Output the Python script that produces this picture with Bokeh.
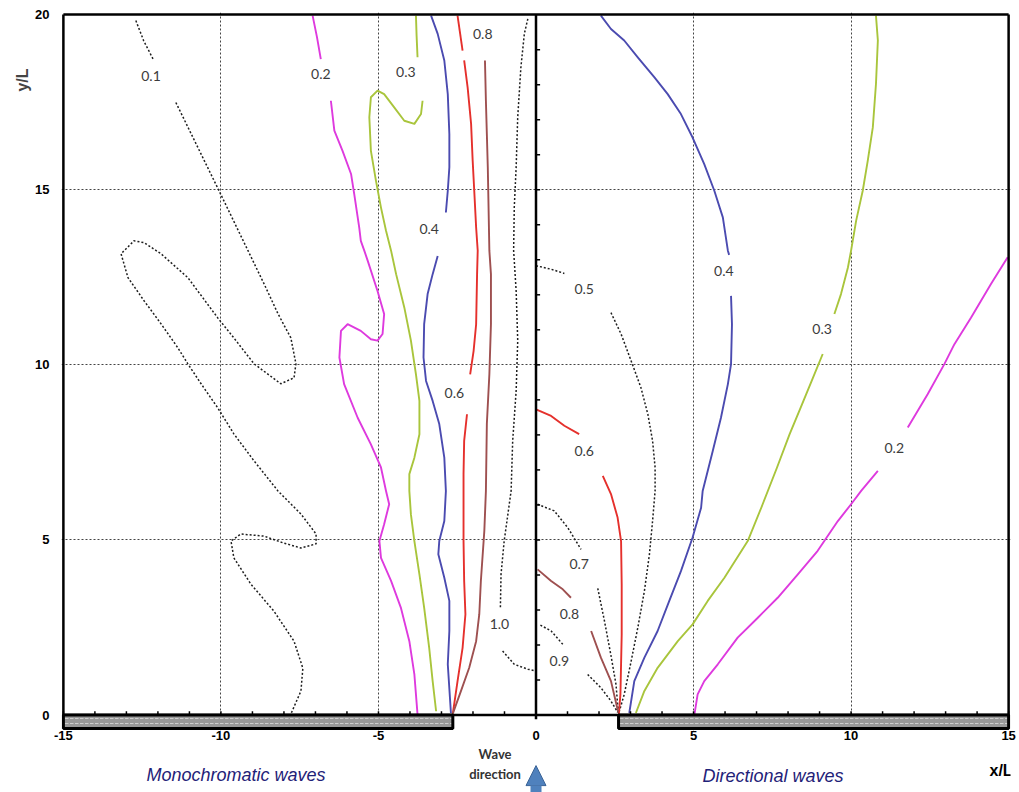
import numpy as np
from bokeh.plotting import figure
from bokeh.layouts import column
from bokeh.models import Range1d, FixedTicker, Arrow, NormalHead, Title
from bokeh.core.properties import value
from bokeh.embed import file_html
from bokeh.resources import INLINE

# ---------------- axes ----------------
x_ticks = [-15, -10, -5, 0, 5, 10, 15]
x_tick_labels = ["-15", "-10", "-5", "0", "5", "10", "15"]
y_ticks = [0, 5, 10, 15, 20]
y_tick_labels = ["0", "5", "10", "15", "20"]
x_grid = [-10, -5, 5, 10]
y_grid = [5, 10, 15]

# breakwater tips (x/L)
left_tip = -2.64
right_tip = 2.62

# ---------------- Monochromatic waves (left half) ----------------
mono_k01_x = [[-12.70, -12.45, -12.13],
              [-11.43, -10.06, -9.14, -8.63, -8.19, -7.78, -7.62, -7.68, -8.10, -8.95, -9.59, -10.10,
               -11.05, -11.90, -12.44, -12.76, -13.17, -12.95, -12.44, -11.90, -11.37, -11.05, -10.63,
               -10.10, -9.59, -8.95, -8.19, -7.46, -6.98, -6.98, -7.46, -8.00, -8.63, -9.37, -9.68,
               -9.59, -9.05, -8.32, -7.68, -7.40, -7.46, -7.78]]
mono_k01_y = [[19.83, 19.25, 18.69],
              [17.49, 14.97, 13.26, 12.31, 11.46, 10.77, 10.03, 9.63, 9.46, 10.03, 10.77, 11.34,
               12.49, 13.17, 13.49, 13.54, 13.17, 12.49, 11.83, 11.17, 10.49, 10.03, 9.46,
               8.77, 8.03, 7.26, 6.40, 5.74, 5.17, 4.89, 4.77, 4.91, 5.11, 5.17, 4.97,
               4.49, 3.74, 2.97, 2.11, 1.34, 0.69, 0.03]]

mono_k02_x = [[-7.09, -6.95, -6.83],
              [-6.51, -6.40, -6.14, -5.87, -5.77, -5.61, -5.56, -5.45, -5.34, -5.03, -4.82, -4.87,
               -5.03, -5.24, -5.56, -5.98, -6.19, -6.24, -6.09, -5.66, -5.24, -4.92, -4.76, -4.66,
               -4.82, -4.97, -4.92, -4.60, -4.29, -4.02, -3.86, -3.76]]
mono_k02_y = [[19.97, 19.35, 18.73],
              [17.54, 16.69, 16.11, 15.45, 14.88, 13.92, 13.54, 13.26, 12.97, 12.11, 11.45, 10.88,
               10.69, 10.73, 10.97, 11.16, 10.97, 10.21, 9.45, 8.49, 7.73, 7.07, 6.40, 6.02,
               5.45, 4.97, 4.49, 3.83, 3.07, 2.11, 1.16, 0.02]]

mono_k03_x = [[-3.81, -3.79, -3.76],
              [-3.60, -3.65, -3.86, -4.18, -4.50, -4.82, -5.03, -5.24, -5.29, -5.24, -5.08, -4.92,
               -4.76, -4.60, -4.44, -4.18, -3.97, -3.81, -3.70, -3.70, -3.86, -4.02, -4.02, -3.97,
               -3.86, -3.70, -3.55, -3.39, -3.28, -3.17]]
mono_k03_y = [[19.97, 19.40, 18.78],
              [17.54, 17.16, 16.88, 16.97, 17.35, 17.73, 17.83, 17.64, 17.07, 16.11, 15.26, 14.49,
               13.83, 13.26, 12.59, 11.64, 10.69, 9.73, 8.97, 8.02, 7.35, 6.88, 6.40, 5.73,
               4.97, 4.02, 3.07, 1.92, 0.97, 0.11]]

mono_k04_x = [[-3.33, -3.12, -2.91, -2.80, -2.75, -2.75, -2.80, -2.86],
              [-3.12, -3.28, -3.44, -3.55, -3.57, -3.49, -3.28, -3.07, -2.91, -2.86, -2.91, -3.07,
               -3.10, -2.91, -2.75, -2.75, -2.80, -2.70]]
mono_k04_y = [[19.97, 19.45, 18.69, 17.73, 16.59, 15.64, 14.97, 14.35],
              [13.11, 12.59, 12.02, 11.16, 10.21, 9.54, 8.97, 8.31, 7.35, 6.40, 5.54, 4.97,
               4.59, 3.92, 3.26, 2.40, 1.45, 0.06]]

mono_k06_x = [[-2.49, -2.33],
              [-2.28, -2.17, -2.06, -2.01, -1.96, -1.90, -1.85, -1.87, -1.90, -1.98, -2.09],
              [-2.19, -2.28, -2.30, -2.30, -2.30, -2.28, -2.24, -2.33, -2.49, -2.64]]
mono_k06_y = [[19.97, 18.97],
              [18.69, 17.92, 16.88, 15.83, 14.97, 13.92, 13.26, 12.59, 11.16, 10.40, 9.73],
              [8.59, 7.83, 6.88, 6.40, 4.97, 3.83, 2.88, 1.92, 0.97, 0.04]]

mono_k08_x = [[-1.62, -1.59, -1.56, -1.53, -1.51, -1.48, -1.43, -1.43, -1.48, -1.56, -1.59, -1.64,
               -1.75, -1.80, -1.90, -2.12, -2.38, -2.64]]
mono_k08_y = [[18.69, 17.54, 16.59, 15.64, 14.69, 13.26, 12.59, 11.16, 9.73, 8.31, 6.40, 5.26,
               3.83, 2.88, 2.11, 1.35, 0.69, 0.04]]

mono_k10_x = [[-0.26, -0.37, -0.48, -0.58, -0.63, -0.69, -0.71, -0.63, -0.58, -0.63, -0.74, -0.79,
               -1.01, -1.11, -1.13],
              [-1.06, -0.69, -0.26, 0.0]]
mono_k10_y = [[19.88, 19.45, 18.49, 17.07, 15.64, 14.49, 13.26, 12.11, 10.69, 9.26, 7.83, 6.40,
               4.97, 4.02, 3.07],
              [1.83, 1.45, 1.31, 1.26]]

mono_label_x = [-12.22, -6.83, -4.13, -3.39, -2.59, -1.69, -1.16]
mono_label_y = [18.26, 18.30, 18.35, 13.88, 9.21, 19.45, 2.59]
mono_label_text = ["0.1", "0.2", "0.3", "0.4", "0.6", "0.8", "1.0"]

# ---------------- Directional waves (right half) ----------------
dir_k02_x = [[14.97, 14.44, 13.81, 13.28, 12.96, 12.43, 11.80],
             [10.85, 10.32, 10.00, 9.58, 9.15, 8.94, 8.31, 7.67, 7.04, 6.40, 5.77, 5.34, 5.13, 5.03]]
dir_k02_y = [[13.07, 12.31, 11.35, 10.59, 10.02, 9.16, 8.21],
             [6.97, 6.40, 6.02, 5.54, 4.97, 4.69, 4.02, 3.35, 2.78, 2.21, 1.45, 0.97, 0.59, 0.03]]

dir_k03_x = [[10.79, 10.85, 10.79, 10.69, 10.53, 10.37, 10.16, 10.00, 9.90, 9.68, 9.47],
             [9.10, 8.75, 8.40, 8.05, 7.65, 7.15, 6.72, 5.98, 5.45, 4.97, 4.50, 3.86, 3.44, 3.17]]
dir_k03_y = [[19.97, 19.26, 18.02, 16.78, 15.83, 14.97, 14.11, 13.26, 12.78, 12.02, 11.45],
             [10.31, 9.54, 8.78, 8.02, 7.07, 5.92, 4.97, 3.92, 3.26, 2.59, 2.11, 1.35, 0.69, 0.06]]

dir_k04_x = [[2.06, 2.38, 2.80, 3.23, 3.76, 4.18, 4.60, 4.97, 5.34, 5.66, 5.93, 6.09, 6.13],
             [6.19, 6.22, 6.19, 6.09, 5.87, 5.61, 5.29, 5.24, 4.97, 4.60, 4.23, 3.86, 3.44, 3.12, 2.96]]
dir_k04_y = [[19.97, 19.59, 19.26, 18.78, 18.21, 17.73, 17.16, 16.49, 15.73, 14.97, 14.21, 13.26, 13.14],
             [11.97, 11.16, 10.02, 9.45, 8.49, 7.54, 6.40, 5.92, 5.07, 4.11, 3.26, 2.40, 1.64, 0.97, 0.06]]

dir_k05_x = [[0.0, 0.48, 0.90],
             [2.38, 2.70, 3.02, 3.33, 3.55, 3.70, 3.78, 3.78, 3.70, 3.60, 3.44, 3.23, 3.02, 2.80, 2.62]]
dir_k05_y = [[12.83, 12.73, 12.61],
             [11.49, 10.88, 10.11, 9.35, 8.59, 7.83, 7.07, 6.40, 5.54, 4.59, 3.54, 2.49, 1.54, 0.59, 0.03]]

dir_k06_x = [[0.0, 0.48, 0.90, 1.37],
             [2.12, 2.38, 2.59, 2.70, 2.72, 2.72, 2.68, 2.63]]
dir_k06_y = [[8.73, 8.54, 8.26, 8.02],
             [6.83, 6.31, 5.64, 4.97, 3.73, 2.30, 0.60, 0.03]]

dir_k07_x = [[0.05, 0.58, 1.01, 1.43],
             [1.96, 2.17, 2.38, 2.54, 2.61]]
dir_k07_y = [[6.02, 5.83, 5.35, 4.73],
             [3.62, 2.70, 1.70, 0.87, 0.08]]

dir_k08_x = [[0.05, 0.48, 0.85, 1.11],
             [1.75, 2.06, 2.38, 2.61]]
dir_k08_y = [[4.16, 3.83, 3.59, 3.35],
             [2.40, 1.64, 0.97, 0.08]]

dir_k09_x = [[0.14, 0.48, 0.85],
             [1.64, 2.06, 2.38, 2.59]]
dir_k09_y = [[2.57, 2.40, 2.02],
             [1.16, 0.78, 0.40, 0.08]]

dir_label_x = [5.96, 9.08, 11.37, 1.53, 1.53, 1.37, 1.06, 0.74]
dir_label_y = [12.69, 11.02, 7.64, 12.16, 7.54, 4.31, 2.88, 1.54]
dir_label_text = ["0.4", "0.3", "0.2", "0.5", "0.6", "0.7", "0.8", "0.9"]

# captions below the chart (x/L, y/L units)
caption_text = ["Monochromatic waves", "Directional waves"]
caption_x = [-9.52, 7.52]
caption_y = [-1.74, -1.77]
wave_dir_text = ["Wave", "direction"]
wave_dir_x = [-1.30, -1.30]
wave_dir_y = [-1.12, -1.69]

# ---------------- styles ----------------
C_MAG = "#DE3ADE"
C_GRN = "#A9C53C"
C_BLU = "#4B4BB0"
C_RED = "#E5302C"
C_BRN = "#9E5050"
C_DOT = "#1E1E1E"

FW = 949
XR = (-15.06, 15.06)

p = figure(x_range=Range1d(*XR), y_range=Range1d(-0.44, 20.06),
           frame_width=FW, frame_height=718,
           min_border_left=61, min_border_right=6, min_border_top=12, min_border_bottom=16,
           output_backend="svg", toolbar_location=None)
p.outline_line_color = None
p.background_fill_color = "white"
p.border_fill_color = "white"

for ax, ticks, labs, standoff in ((p.xaxis, x_ticks, x_tick_labels, 0),
                                  (p.yaxis, y_ticks, y_tick_labels, 12)):
    ax.ticker = FixedTicker(ticks=ticks)
    ax.major_label_overrides = {t: s for t, s in zip(ticks, labs)}
    ax.axis_line_color = None
    ax.major_tick_line_color = None
    ax.minor_tick_line_color = None
    ax.major_tick_out = 0
    ax.major_tick_in = 0
    ax.major_label_text_font = "Liberation Sans"
    ax.major_label_text_font_style = "bold"
    ax.major_label_text_font_size = "13px"
    ax.major_label_text_color = "black"
    ax.major_label_standoff = standoff

p.add_layout(Title(text="y/L", align="right", offset=56, standoff=4,
                   text_font="Liberation Sans", text_font_size="16px", text_font_style="bold"), "left")

p.xgrid.ticker = FixedTicker(ticks=x_grid)
p.ygrid.ticker = FixedTicker(ticks=y_grid)
for g in (p.xgrid, p.ygrid):
    g.grid_line_color = "#444444"
    g.grid_line_dash = "2 2"
    g.grid_line_width = 1

def draw(xs, ys, color, width=1.9, dash="solid"):
    p.multi_line(xs, ys, line_color=color, line_width=width, line_dash=dash, line_join="round")

DOT = "2 2"
# left
draw(mono_k01_x, mono_k01_y, C_DOT, 1.5, DOT)
draw(mono_k02_x, mono_k02_y, C_MAG)
draw(mono_k03_x, mono_k03_y, C_GRN)
draw(mono_k04_x, mono_k04_y, C_BLU)
draw(mono_k06_x, mono_k06_y, C_RED)
draw(mono_k08_x, mono_k08_y, C_BRN)
draw(mono_k10_x, mono_k10_y, C_DOT, 1.5, DOT)
# right
draw(dir_k02_x, dir_k02_y, C_MAG)
draw(dir_k03_x, dir_k03_y, C_GRN)
draw(dir_k04_x, dir_k04_y, C_BLU)
draw(dir_k05_x, dir_k05_y, C_DOT, 1.5, DOT)
draw(dir_k06_x, dir_k06_y, C_RED)
draw(dir_k07_x, dir_k07_y, C_DOT, 1.5, DOT)
draw(dir_k08_x, dir_k08_y, C_BRN)
draw(dir_k09_x, dir_k09_y, C_DOT, 1.5, DOT)

lab_font = value("Lato")
p.text(mono_label_x, mono_label_y, text=mono_label_text, text_font=lab_font,
       text_font_size="14px", text_color="#3c3c3c", text_align="center", text_baseline="middle")
p.text(dir_label_x, dir_label_y, text=dir_label_text, text_font=lab_font,
       text_font_size="14px", text_color="#3c3c3c", text_align="center", text_baseline="middle")

# frame / axis lines: left, top, right, centre, shoreline
xmin, xmax, ymax = x_ticks[0], x_ticks[-1], y_ticks[-1]
p.multi_line([[xmin, xmin], [xmin, xmax], [xmax, xmax], [0, 0], [xmin, xmax]],
             [[-0.3, ymax], [ymax, ymax], [-0.3, ymax], [-0.12, ymax], [0, 0]],
             line_color="black", line_width=2.5)

# small ticks along shoreline and centre axis
tx = np.arange(xmin, xmax + 1)
p.segment(tx, np.zeros(len(tx)), tx, np.full(len(tx), 0.11), line_color="black", line_width=1.5)
ty = np.arange(1, ymax)
p.segment(np.zeros(len(ty)), ty, np.full(len(ty), 0.13), ty, line_color="black", line_width=1.5)

# breakwaters
p.quad(left=[xmin, right_tip], right=[left_tip, xmax], bottom=[-0.38, -0.38], top=[0, 0],
       fill_color="#999999", hatch_pattern="horizontal_dash", hatch_color="#cfcfcf",
       hatch_scale=5, hatch_weight=1, line_color="black", line_width=3)

# ---------------- caption strip below the axis ----------------
q = figure(x_range=Range1d(*XR), y_range=Range1d(-2.229, -0.914),
           frame_width=FW, frame_height=46,
           min_border_left=61, min_border_right=6, min_border_top=0, min_border_bottom=0,
           x_axis_type=None, y_axis_type=None,
           output_backend="svg", toolbar_location=None)
q.outline_line_color = None
q.xgrid.visible = False
q.ygrid.visible = False
q.text(caption_x, caption_y, text=caption_text, text_font=value("Liberation Sans"),
       text_font_size="18px", text_font_style="italic", text_color="#1f2278",
       text_align="center", text_baseline="middle")
q.text(wave_dir_x, wave_dir_y, text=wave_dir_text, text_font=value("Lato"),
       text_font_size="13px", text_font_style="bold", text_color="#333333",
       text_align="center", text_baseline="middle")
q.text([14.76], [-1.60], text=["x/L"], text_font=value("Liberation Sans"),
       text_font_size="16px", text_font_style="bold", text_color="black",
       text_align="center", text_baseline="middle")
q.add_layout(Arrow(end=NormalHead(size=20, fill_color="#4F81BD", line_color="#3A6396", line_width=1),
                   x_start=0, y_start=-2.3, x_end=0, y_end=-1.46,
                   line_color="#4F81BD", line_width=11))

layout = column(p, q, spacing=0)
open("out.html", "w").write(file_html(layout, INLINE))
